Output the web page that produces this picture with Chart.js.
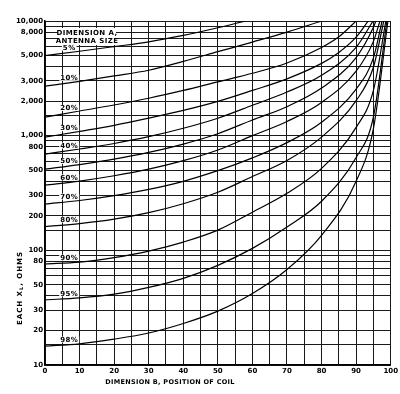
<!DOCTYPE html>
<html>
<head>
<meta charset="utf-8">
<script src="https://cdn.jsdelivr.net/npm/chart.js@4.4.1/dist/chart.umd.min.js"></script>
<style>
  html, body { margin: 0; padding: 0; background: #fff; }
</style>
</head>
<body>
<canvas id="xlChart" width="400" height="394"></canvas>
<script>
// antenna size (dimension A) for each curve
const sizeLabels = ['5%', '10%', '20%', '30%', '40%', '50%', '60%', '70%', '80%', '90%', '95%', '98%']

// [dimension B (%), each XL (ohms)]
const a05 = [[0, 5000], [10, 5450], [20, 5980], [30, 6580], [40, 7480], [50, 8730], [58, 10000]]
const a10 = [[0, 2700], [10, 2980], [20, 3320], [30, 3720], [40, 4450], [50, 5400], [60, 6550], [70, 8000], [80, 10000]]
const a20 = [[0, 1450], [10, 1640], [20, 1850], [30, 2120], [40, 2480], [50, 2950], [60, 3500], [70, 4300], [80, 5870], [85, 7280], [90, 10000]]
const a30 = [[0, 970], [10, 1090], [20, 1230], [30, 1420], [40, 1660], [50, 1990], [60, 2480], [70, 3130], [80, 4270], [85, 5320], [90, 7230], [93.5, 10000]]
const a40 = [[0, 690], [10, 765], [20, 855], [30, 980], [40, 1160], [50, 1420], [60, 1840], [70, 2400], [80, 3360], [90, 5900], [94.9, 10000]]
const a50 = [[0, 510], [10, 560], [20, 625], [30, 715], [40, 845], [50, 1040], [60, 1370], [70, 1790], [80, 2600], [90, 4800], [95, 8800], [95.7, 10000]]
const a60 = [[0, 370], [10, 402], [20, 447], [30, 510], [40, 605], [50, 750], [60, 1000], [70, 1330], [80, 1950], [90, 3650], [95, 6640], [96.9, 10000]]
const a70 = [[0, 253], [10, 272], [20, 300], [30, 340], [40, 400], [50, 495], [60, 640], [70, 870], [80, 1310], [90, 2550], [95, 4770], [97.5, 10000]]
const a80 = [[0, 161], [10, 171], [20, 187], [30, 213], [40, 255], [50, 321], [60, 440], [70, 608], [80, 972], [90, 2020], [95, 3950], [98, 10000]]
const a90 = [[0, 76], [10, 79], [20, 86.5], [30, 98.5], [40, 118], [50, 150], [60, 215], [70, 314], [80, 518], [90, 1180], [95, 2480], [98.6, 10000]]
const a95 = [[0, 37], [10, 38.5], [20, 41.5], [30, 47.5], [40, 57], [50, 74], [60, 104], [70, 160], [80, 268], [90, 645], [95, 1455], [98.9, 10000]]
const a98 = [[0, 14.6], [10, 15.3], [20, 16.8], [30, 19], [40, 23], [50, 29.5], [60, 42], [70, 68], [80, 135], [90, 400], [95, 1150], [99.2, 10000]]
const curves = [a05, a10, a20, a30, a40, a50, a60, a70, a80, a90, a95, a98]

// axis ticks
const xTicks = [0, 5, 10, 15, 20, 25, 30, 35, 40, 45, 50, 55, 60, 65, 70, 75, 80, 85, 90, 95, 100]
const yTicks = [10, 15, 20, 30, 40, 50, 60, 70, 80, 90,
  100, 150, 200, 300, 400, 500, 600, 700, 800, 900,
  1000, 1500, 2000, 3000, 4000, 5000, 6000, 7000, 8000, 9000, 10000]
const yLabelled = [10, 20, 30, 50, 80, 100, 200, 300, 500, 800, 1000, 2000, 3000, 5000, 8000, 10000]

const tickFont = { family: 'DejaVu Sans', size: 7, weight: 'bold' }

// y of a curve at b, interpolated in log space
function valueAt(curve, b) {
  for (let i = 1; i < curve.length; i++) {
    if (curve[i][0] >= b) {
      const [x0, y0] = curve[i - 1], [x1, y1] = curve[i]
      const t = (b - x0) / (x1 - x0)
      return Math.pow(10, Math.log10(y0) + t * (Math.log10(y1) - Math.log10(y0)))
    }
  }
  return curve[curve.length - 1][1]
}

const annotations = {
  id: 'annotations',
  afterDatasetsDraw(chart) {
    const ctx = chart.ctx
    const xs = chart.scales.x, ys = chart.scales.y
    ctx.save()
    ctx.font = 'bold 7px "DejaVu Sans"'
    ctx.textAlign = 'center'
    ctx.textBaseline = 'middle'
    ctx.letterSpacing = '0.4px'

    // legend heading
    ctx.fillStyle = '#fff'
    ctx.fillRect(58, 28, 58, 17)
    ctx.fillStyle = '#000'
    ctx.fillText('DIMENSION A,', 87, 33)
    ctx.fillText('ANTENNA SIZE', 87, 41)

    // curve labels, just above each curve
    ctx.textBaseline = 'bottom'
    curves.forEach((c, i) => {
      const b = 7
      const px = xs.getPixelForValue(b)
      const py = ys.getPixelForValue(valueAt(c, b)) - 1
      const w = ctx.measureText(sizeLabels[i]).width
      ctx.fillStyle = '#fff'
      ctx.fillRect(px - w / 2 - 1, py - 7, w + 2, 6)
      ctx.fillStyle = '#000'
      ctx.fillText(sizeLabels[i], px, py)
    })

    // axis titles
    ctx.letterSpacing = '0.3px'
    ctx.textBaseline = 'middle'
    ctx.font = 'bold 6.5px "DejaVu Sans"'
    ctx.fillText('DIMENSION B, POSITION OF COIL', 170, 382)
    ctx.translate(20, 288)
    ctx.rotate(-Math.PI / 2)
    ctx.textAlign = 'left'
    ctx.letterSpacing = '1px'
    const parts = ['EACH X', 'L', ', OHMS']
    ctx.font = 'bold 7px "DejaVu Sans"'
    const w0 = ctx.measureText(parts[0]).width
    ctx.font = 'bold 5px "DejaVu Sans"'
    const w1 = ctx.measureText(parts[1]).width
    ctx.font = 'bold 7px "DejaVu Sans"'
    const w2 = ctx.measureText(parts[2]).width
    let x = -(w0 + w1 + w2) / 2
    ctx.fillText(parts[0], x, 0)
    x += w0
    ctx.font = 'bold 5px "DejaVu Sans"'
    ctx.fillText(parts[1], x, 2)
    x += w1
    ctx.font = 'bold 7px "DejaVu Sans"'
    ctx.fillText(parts[2], x, 0)
    ctx.restore()
  }
}

const ctxXl = document.getElementById('xlChart').getContext('2d')

const xlChart = new Chart(ctxXl, {
  type: 'line',
  data: {
    datasets: curves.map((c, i) => ({
      label: sizeLabels[i],
      data: c.map(([b, v]) => ({ x: b, y: v })),
      borderColor: '#000',
      borderWidth: 1.2,
      pointRadius: 0,
      fill: false,
      cubicInterpolationMode: 'monotone'
    }))
  },
  options: {
    responsive: false,
    animation: false,
    events: [],
    layout: { padding: { top: 21, right: 8, left: 0, bottom: 0 } },
    plugins: {
      legend: { display: false },
      tooltip: { enabled: false }
    },
    scales: {
      x: {
        type: 'linear',
        min: 0,
        max: 100,
        afterBuildTicks: s => { s.ticks = xTicks.map(v => ({ value: v })) },
        afterFit: s => { s.height = 29 },
        ticks: {
          autoSkip: false,
          maxRotation: 0,
          padding: 2,
          color: '#000',
          font: tickFont,
          callback: v => (v % 10 === 0 ? String(v) : '')
        },
        grid: { color: '#1a1a1a', lineWidth: 1, drawTicks: false },
        border: { color: '#000', width: 1.5 }
      },
      y: {
        type: 'logarithmic',
        min: 10,
        max: 10000,
        afterBuildTicks: s => { s.ticks = yTicks.map(v => ({ value: v })) },
        afterFit: s => { s.width = 45 },
        ticks: {
          autoSkip: false,
          padding: 2,
          color: '#000',
          font: tickFont,
          callback: v => (yLabelled.includes(v) ? v.toLocaleString('en-US') : '')
        },
        grid: { color: '#1a1a1a', lineWidth: 1, drawTicks: false },
        border: { color: '#000', width: 1.5 }
      }
    }
  },
  plugins: [annotations]
})
</script>
</body>
</html>
